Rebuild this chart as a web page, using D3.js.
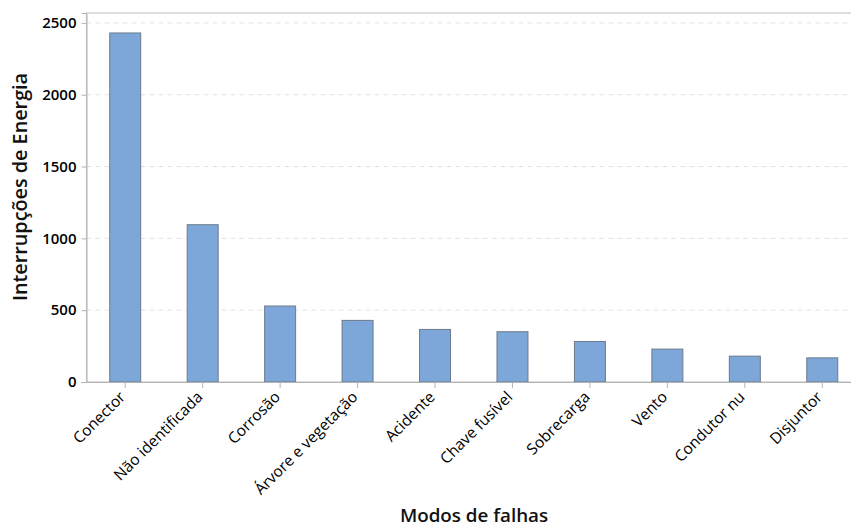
<!DOCTYPE html>
<html>
<head>
<meta charset="utf-8">
<script src="https://cdn.jsdelivr.net/npm/d3@7"></script>
<style>
  body { margin: 0; background: #fff; }
  svg { display: block; font-family: "Open Sans", "Noto Sans", sans-serif; }
</style>
</head>
<body>
<div id="chart"></div>
<script>
// data
var categories = ["Conector", "Não identificada", "Corrosão", "Árvore e vegetação", "Acidente",
                  "Chave fusível", "Sobrecarga", "Vento", "Condutor nu", "Disjuntor"];
var interrupcoes = [2430, 1095, 529, 429, 366, 350, 282, 229, 180, 168];
var yTicks = [0, 500, 1000, 1500, 2000, 2500];

var W = 851, H = 527;
var margin = {top: 13, right: -10, bottom: 145, left: 86.5};
var width = W - margin.left - margin.right,
    height = H - margin.top - margin.bottom;
var fontStack = '"Open Sans", "Noto Sans", sans-serif';

var svg = d3.select("#chart").append("svg")
    .attr("width", W)
    .attr("height", H)
  .append("g")
    .attr("transform", "translate(" + margin.left + "," + margin.top + ")");

var x = d3.scaleBand()
    .domain(categories)
    .range([0, width])
    .paddingInner(0.6)
    .paddingOuter(0.3);

var y = d3.scaleLinear()
    .domain([0, 2569])
    .range([height, 0]);

// frame
svg.append("rect")
    .attr("x", 0).attr("y", 0)
    .attr("width", width).attr("height", height)
    .attr("fill", "none")
    .attr("stroke", "#c8c8c8")
    .attr("stroke-width", 1.2);

// gridlines
svg.append("g")
  .selectAll("line")
  .data(yTicks.filter(function(d){ return d > 0; }))
  .enter().append("line")
    .attr("x1", 0).attr("x2", width)
    .attr("y1", function(d){ return y(d); })
    .attr("y2", function(d){ return y(d); })
    .attr("stroke", "#e2e2e2")
    .attr("stroke-dasharray", "5,4");

// bars
svg.selectAll(".bar")
    .data(interrupcoes)
  .enter().append("rect")
    .attr("class", "bar")
    .attr("x", function(d, i){ return x(categories[i]); })
    .attr("width", x.bandwidth())
    .attr("y", function(d){ return y(d); })
    .attr("height", function(d){ return height - y(d); })
    .attr("fill", "#7da7d9")
    .attr("stroke", "#6b7a8c")
    .attr("stroke-width", 1);

// y axis
var yAxis = svg.append("g")
    .call(d3.axisLeft(y).tickValues(yTicks).tickFormat(d3.format("d")).tickSize(5).tickPadding(5));
yAxis.attr("font-family", fontStack).attr("font-size", 15);
yAxis.select(".domain").attr("stroke", "#b4b4b4");
yAxis.selectAll(".tick line").attr("stroke", "#b4b4b4");
yAxis.selectAll("text")
    .attr("font-weight", 600)
    .attr("fill", "#000");

// x axis
var xAxis = svg.append("g")
    .attr("transform", "translate(0," + height + ")")
    .call(d3.axisBottom(x).tickSize(6).tickSizeOuter(0));
xAxis.attr("font-family", fontStack).attr("font-size", 15.5);
xAxis.select(".domain").attr("stroke", "#b4b4b4");
xAxis.selectAll(".tick line").attr("stroke", "#b4b4b4");
xAxis.selectAll("text")
    .attr("font-weight", 500)
    .attr("fill", "#000")
    .style("text-anchor", "end")
    .attr("dx", "0")
    .attr("dy", "0")
    .attr("y", 0)
    .attr("transform", "translate(1,16) rotate(-45)");

// axis titles
svg.append("text")
    .attr("x", 474 - margin.left)
    .attr("y", H - margin.top - 5)
    .attr("text-anchor", "middle")
    .style("font-size", "18.8px")
    .style("font-weight", "600")
    .attr("fill", "#111")
    .text("Modos de falhas");

svg.append("text")
    .attr("transform", "translate(" + (27 - margin.left) + "," + (187 - margin.top) + ") rotate(-90)")
    .attr("text-anchor", "middle")
    .style("font-size", "19.8px")
    .style("font-weight", "600")
    .attr("fill", "#111")
    .text("Interrupções de Energia");
</script>
</body>
</html>
